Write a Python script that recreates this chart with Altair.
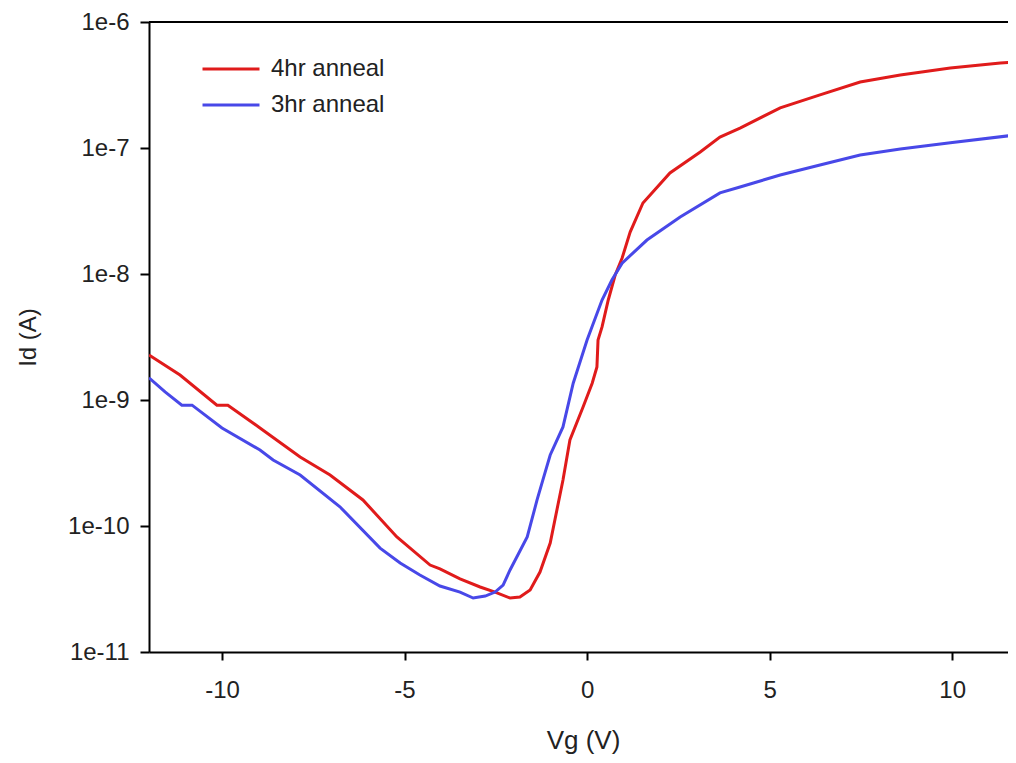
import altair as alt
import pandas as pd

# 4hr anneal (red)
vg_4hr = [-12.0, -11.15, -10.14, -9.84, -8.96, -7.86, -7.04, -6.14, -5.21, -4.30, -4.03,
          -3.48, -2.93, -2.52, -2.11, -1.84, -1.56, -1.29, -1.01, -0.66, -0.47, -0.11,
          0.14, 0.27, 0.30, 0.41, 0.58, 0.77, 0.96, 1.18, 1.53, 2.27, 3.10, 3.64, 4.19,
          5.29, 6.38, 7.48, 8.58, 9.95, 11.32, 11.75]
id_4hr = [2.28e-9, 1.58e-9, 9.1e-10, 9.1e-10, 6.0e-10, 3.53e-10, 2.54e-10, 1.61e-10,
          8.18e-11, 4.90e-11, 4.56e-11, 3.80e-11, 3.28e-11, 2.99e-11, 2.68e-11, 2.73e-11,
          3.10e-11, 4.31e-11, 7.33e-11, 2.32e-10, 4.82e-10, 8.79e-10, 1.36e-9, 1.83e-9,
          2.99e-9, 3.80e-9, 6.22e-9, 9.82e-9, 1.34e-8, 2.15e-8, 3.66e-8, 6.34e-8, 9.29e-8,
          1.22e-7, 1.44e-7, 2.08e-7, 2.64e-7, 3.34e-7, 3.80e-7, 4.32e-7, 4.73e-7, 4.82e-7]

# 3hr anneal (blue)
vg_3hr = [-12.0, -11.56, -11.10, -10.82, -10.0, -8.96, -8.60, -7.86, -6.77, -5.67, -5.12,
          -4.58, -4.03, -3.48, -3.12, -2.79, -2.52, -2.30, -2.11, -1.64, -1.37, -1.21,
          -1.01, -0.66, -0.38, 0.0, 0.41, 0.68, 0.96, 1.64, 2.55, 3.64, 4.19, 5.29, 6.38,
          7.48, 8.58, 9.95, 11.75]
id_3hr = [1.50e-9, 1.16e-9, 9.1e-10, 9.1e-10, 6.0e-10, 4.01e-10, 3.34e-10, 2.54e-10,
          1.42e-10, 6.68e-11, 5.08e-11, 4.08e-11, 3.34e-11, 2.99e-11, 2.68e-11, 2.78e-11,
          2.99e-11, 3.40e-11, 4.48e-11, 8.18e-11, 1.61e-10, 2.32e-10, 3.66e-10, 6.11e-10,
          1.36e-9, 2.99e-9, 6.22e-9, 8.95e-9, 1.22e-8, 1.86e-8, 2.83e-8, 4.40e-8, 4.90e-8,
          6.11e-8, 7.33e-8, 8.79e-8, 9.82e-8, 1.10e-7, 1.27e-7]

series_names = ["4hr anneal", "3hr anneal"]
series_colors = ["#e01b1b", "#4848e8"]
y_ticks = [1e-11, 1e-10, 1e-9, 1e-8, 1e-7, 1e-6]
x_ticks = [-10, -5, 0, 5, 10]

df = pd.concat([
    pd.DataFrame({"Vg": vg_4hr, "Id": id_4hr, "series": series_names[0]}),
    pd.DataFrame({"Vg": vg_3hr, "Id": id_3hr, "series": series_names[1]}),
])

FONT = "Liberation Sans"

x_scale = alt.Scale(domain=[-12, 11.53], nice=False, zero=False)
y_scale = alt.Scale(type="log", domain=[1e-11, 1e-6], nice=False)

lines = alt.Chart(df).mark_line(strokeWidth=3, clip=True).encode(
    x=alt.X("Vg:Q", scale=x_scale,
            axis=alt.Axis(title="Vg (V)", values=x_ticks, grid=False, tickSize=8,
                          labelPadding=18, titleY=75, titleX=434, titleFontSize=26,
                          labelExpr="'' + datum.value")),
    y=alt.Y("Id:Q", scale=y_scale,
            axis=alt.Axis(title="Id (A)", values=y_ticks, grid=False, tickSize=9,
                          labelPadding=11,
                          labelExpr="'1e' + round(log(datum.value)/LN10)",
                          titleX=-121, titleBaseline="middle", titleFontSize=24)),
    color=alt.Color("series:N",
                    scale=alt.Scale(domain=series_names, range=series_colors),
                    legend=alt.Legend(title=None, orient="none", legendX=66, legendY=31,
                                      symbolType="M-2,0L2,0", symbolSize=812,
                                      symbolStrokeWidth=3, symbolFillColor="transparent",
                                      labelOffset=24,
                                      labelFontSize=24, labelFont=FONT,
                                      labelColor="#222222", rowPadding=8,
                                      padding=0)),
)

top_line = alt.Chart(pd.DataFrame({"v": [1e-6]})).mark_rule(
    color="black", strokeWidth=2
).encode(y=alt.Y("v:Q", scale=y_scale))

chart = alt.layer(lines, top_line).properties(
    width=859, height=630,
    padding={"left": 141, "top": 14, "right": 0, "bottom": 103},
    autosize=alt.AutoSizeParams(type="none"),
).configure_view(stroke=None).configure_axis(
    domainColor="black", domainWidth=2, tickColor="black", tickWidth=2,
    labelFont=FONT, titleFont=FONT, labelFontSize=24, labelColor="#222222",
    titleColor="#222222", titleFontWeight="normal",
)

chart.save("out.html", embed_options={"renderer": "svg", "actions": False})
